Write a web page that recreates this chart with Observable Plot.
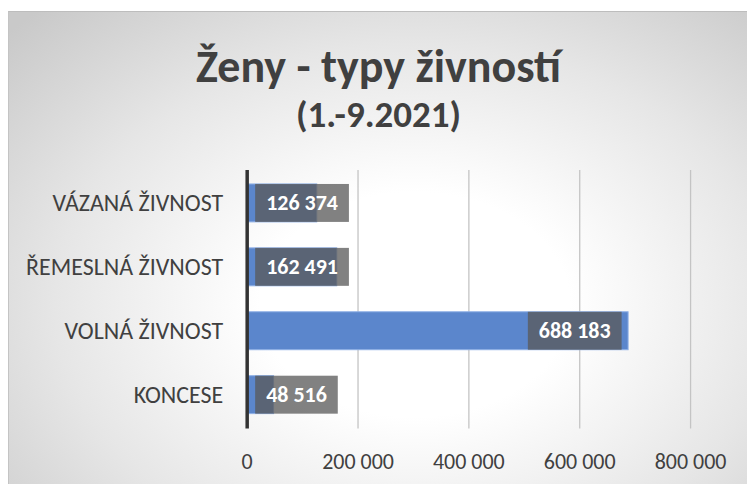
<!DOCTYPE html>
<html>
<head>
<meta charset="utf-8">
<script src="https://cdn.jsdelivr.net/npm/d3@7"></script>
<script src="https://cdn.jsdelivr.net/npm/@observablehq/plot@0.6"></script>
<style>
  html, body { margin: 0; padding: 0; background: #ffffff; }
  body { width: 747px; height: 484px; position: relative; overflow: hidden; }
  #frame {
    position: absolute; left: 8px; top: 11px; width: 739px; height: 473px;
    background: radial-gradient(ellipse 75% 85% at 55% 62%, #ffffff 0%, #ffffff 28%, #e6e6e6 65%, #c9c9c9 100%);
    border-top: 1px solid #bdbdbd; border-left: 1px solid #c4c4c4; box-sizing: border-box;
  }
  .t { position: absolute; left: 0; width: 739px; text-align: center; font-family: Calibri, Carlito, Lato, sans-serif; font-weight: bold; color: #404040; white-space: nowrap; }
  #title { top: 24px; font-size: 46px; line-height: 60px; }
  #subtitle { top: 81px; font-size: 37px; line-height: 44px; }
  #chart { position: absolute; left: 0; top: 129px; }
</style>
</head>
<body>
<div id="frame">
  <div id="title" class="t">Ženy - typy živností</div>
  <div id="subtitle" class="t">(1.-9.2021)</div>
  <div id="chart"></div>
</div>
<script>
const categories = ["VÁZANÁ ŽIVNOST", "ŘEMESLNÁ ŽIVNOST", "VOLNÁ ŽIVNOST", "KONCESE"];
const values = [126374, 162491, 688183, 48516];
const xTicks = [0, 200000, 400000, 600000, 800000];

const data = categories.map((c, i) => ({category: c, value: values[i]}));
const locale = d3.formatLocale({decimal: ",", thousands: "\u00a0", grouping: [3], currency: ["", ""]});
const fmt = locale.format(",d");
const font = "Calibri, Carlito, Lato, sans-serif";

// Excel places a label at the bar end when it fits, otherwise at the base
const atEnd = data.filter(d => d.value > 400000);
const atBase = data.filter(d => d.value <= 400000);

const plot = Plot.plot({
  width: 739,
  height: 344,
  marginLeft: 238,
  marginRight: 57,
  marginTop: 29,
  marginBottom: 56,
  style: {background: "transparent", fontFamily: font, fontSize: "22px", color: "#404040", overflow: "visible"},
  x: {domain: [0, 800000], ticks: xTicks, tickFormat: fmt, label: null},
  y: {domain: categories, paddingInner: 0.4, paddingOuter: 0.2, label: null},
  marks: [
    Plot.ruleX(xTicks.slice(1), {stroke: "#c4c4c4", strokeWidth: 1.3}),
    Plot.barX(data, {x: "value", y: "category", fill: "#5b86cc", stroke: "#8fb0e6", strokeWidth: 1}),
    Plot.ruleX([0], {stroke: "#333333", strokeWidth: 3.5}),
    Plot.axisX({ticks: xTicks, tickFormat: fmt, tickSize: 0, tickPadding: 24, fontSize: 22, fill: "#404040", fontWeight: 300, label: null}),
    Plot.axisY({tickSize: 0, tickPadding: 24, fontSize: 24, fill: "#404040", fontWeight: 300, label: null}),
    Plot.text(atEnd, {x: "value", y: "category", text: d => fmt(d.value), textAnchor: "end", dx: -18, fill: "white", fontWeight: "bold", fontSize: 22, className: "lbl"}),
    Plot.text(atBase, {x: d => 0, y: "category", text: d => fmt(d.value), textAnchor: "start", dx: 19, fill: "white", fontWeight: "bold", fontSize: 22, className: "lbl"})
  ]
});
document.getElementById("chart").appendChild(plot);

// grey semi-transparent boxes behind the data labels, sized to the text, as tall as a bar
const yScale = plot.scale("y");
const bw = yScale.bandwidth !== undefined ? yScale.bandwidth : 39;
const svgNS = "http://www.w3.org/2000/svg";
plot.querySelectorAll(".lbl text").forEach(t => {
  const b = t.getBBox();
  const cy = b.y + b.height / 2;
  const r = document.createElementNS(svgNS, "rect");
  r.setAttribute("x", b.x - 11);
  r.setAttribute("width", b.width + 22);
  r.setAttribute("y", cy - bw / 2);
  r.setAttribute("height", bw);
  r.setAttribute("fill", "#595959");
  r.setAttribute("fill-opacity", "0.76");
  const tr = t.getAttribute("transform");
  if (tr) r.setAttribute("transform", tr);
  t.parentNode.insertBefore(r, t);
});
</script>
</body>
</html>
